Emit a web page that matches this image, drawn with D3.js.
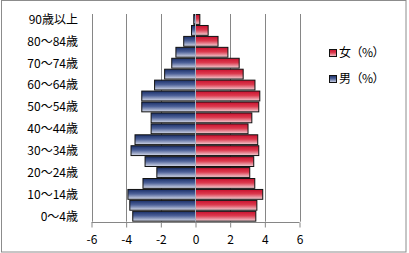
<!DOCTYPE html>
<html><head><meta charset="utf-8">
<script src="https://cdn.jsdelivr.net/npm/d3@7"></script>
<style>html,body{margin:0;padding:0;background:#fff;overflow:hidden}</style>
</head><body>
<svg id="c" width="409" height="253"></svg>
<script>
const categories = ["0～4歳","5～9歳","10～14歳","15～19歳","20～24歳","25～29歳","30～34歳","35～39歳","40～44歳","45～49歳","50～54歳","55～59歳","60～64歳","65～69歳","70～74歳","75～79歳","80～84歳","85～89歳","90歳以上"];
const maleValues = [-3.62,-3.79,-3.9,-3.03,-2.23,-2.91,-3.72,-3.49,-2.56,-2.56,-3.1,-3.1,-2.36,-1.78,-1.37,-1.13,-0.68,-0.23,-0.1];
const femaleValues = [3.48,3.54,3.88,3.42,3.13,3.36,3.65,3.59,3.03,3.25,3.65,3.71,3.43,2.75,2.52,1.87,1.3,0.73,0.25];
const xTicks = [-6,-4,-2,0,2,4,6];
const seriesNames = ["女（%）","男（%）"];

(function(){
const svg = d3.select("#c");
const font = "'Noto Sans CJK JP','Noto Sans',sans-serif";
const gridColor = "#868686";

svg.append("rect").attr("x",1.5).attr("y",0.5).attr("width",404.5).attr("height",251.5)
  .attr("fill","#fff").attr("stroke","#8c8c8c");

const defs = svg.append("defs");
const gb = defs.append("linearGradient").attr("id","gBlue").attr("x1",0).attr("y1",0).attr("x2",0).attr("y2",1);
gb.append("stop").attr("offset","0%").attr("stop-color","#1a2f68");
gb.append("stop").attr("offset","45%").attr("stop-color","#4d6198");
gb.append("stop").attr("offset","100%").attr("stop-color","#d6dbea");
const gr = defs.append("linearGradient").attr("id","gRed").attr("x1",0).attr("y1",0).attr("x2",0).attr("y2",1);
gr.append("stop").attr("offset","0%").attr("stop-color","#c8102e");
gr.append("stop").attr("offset","45%").attr("stop-color","#dc3a4e");
gr.append("stop").attr("offset","100%").attr("stop-color","#f3d3d8");

const x = d3.scaleLinear().domain([-6,6]).range([91.5,299.5]);
const y = d3.scaleBand().domain(categories.slice().reverse()).range([14,221.7]).paddingInner(0.1).paddingOuter(0.05);
const plotTop = 14, plotBottom = 221.7;

// gridlines
svg.append("g").selectAll("line").data(xTicks.filter(d=>d!==0)).join("line")
  .attr("x1",d=>Math.round(x(d))+0.5).attr("x2",d=>Math.round(x(d))+0.5)
  .attr("y1",plotTop).attr("y2",plotBottom).attr("stroke",gridColor).attr("stroke-width",1);

// bars
const data = categories.map((c,i)=>({c, m:maleValues[i], f:femaleValues[i]}));
svg.append("g").selectAll("rect").data(data).join("rect")
  .attr("x",d=>x(d.m)).attr("y",d=>y(d.c)).attr("width",d=>x(0)-x(d.m)).attr("height",y.bandwidth())
  .attr("fill","url(#gBlue)").attr("stroke","#111").attr("stroke-width",1);
svg.append("g").selectAll("rect").data(data).join("rect")
  .attr("x",x(0)).attr("y",d=>y(d.c)).attr("width",d=>x(d.f)-x(0)).attr("height",y.bandwidth())
  .attr("fill","url(#gRed)").attr("stroke","#111").attr("stroke-width",1);

// zero axis line
svg.append("line").attr("x1",x(0)).attr("x2",x(0)).attr("y1",plotTop).attr("y2",plotBottom)
  .attr("stroke","#a8b0c0").attr("stroke-width",1);

// x axis
const xa = svg.append("g").attr("transform",`translate(0,${Math.round(plotBottom)+0.5})`)
  .call(d3.axisBottom(x).tickValues(xTicks).tickSize(5).tickPadding(8).tickFormat(d3.format("d")));
xa.select(".domain").attr("stroke",gridColor).attr("d",`M${x(-6)},0H${x(6)}`);
xa.selectAll(".tick line").attr("stroke",gridColor);
xa.selectAll(".tick text").attr("font-family",font).attr("font-size",12).attr("fill","#000")
  .text(d=>d<0?"-"+Math.abs(d):d);

// category labels (every other)
svg.append("g").selectAll("text").data(categories.filter((c,i)=>i%2===0)).join("text")
  .attr("x",78).attr("y",d=>y(d)+y.bandwidth()/2).attr("dy","0.36em")
  .attr("text-anchor","end").attr("font-family",font).attr("font-size",12).attr("fill","#000")
  .text(d=>d);

// legend
const leg = svg.append("g");
const lg = [{n:seriesNames[0],f:"url(#gRed)",y:53},{n:seriesNames[1],f:"url(#gBlue)",y:79}];
lg.forEach(l=>{
  leg.append("rect").attr("x",329.5).attr("y",l.y-3.5).attr("width",7).attr("height",7)
    .attr("fill",l.f).attr("stroke","#111").attr("stroke-width",1);
  leg.append("text").attr("x",339).attr("y",l.y).attr("dy","0.36em")
    .attr("font-family",font).attr("font-size",12).attr("letter-spacing","-0.5px").attr("fill","#000").text(l.n);
});
})();
</script>
</body></html>
